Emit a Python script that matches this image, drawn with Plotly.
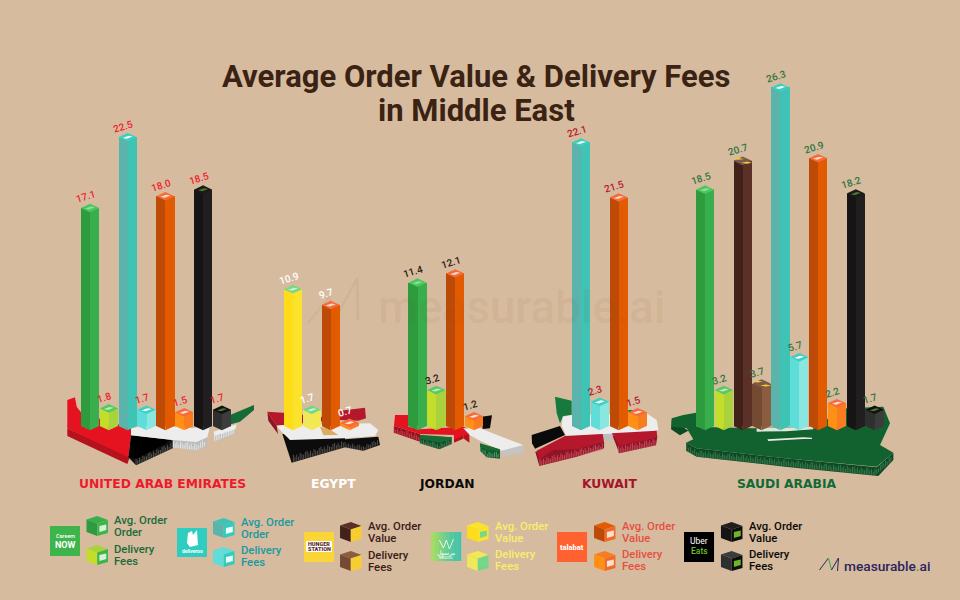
import plotly.graph_objects as go

# ---------- data ----------
uae_brands = ["careem", "careem_fee", "deliveroo", "deliveroo_fee", "talabat", "talabat_fee", "uber", "uber_fee"]
uae_values = [17.1, 1.8, 22.5, 1.7, 18.0, 1.5, 18.5, 1.7]
egypt_brands = ["mrsool", "mrsool_fee", "talabat", "talabat_fee"]
egypt_values = [10.9, 1.7, 9.7, 0.7]
jordan_brands = ["careem", "careem_fee", "talabat", "talabat_fee"]
jordan_values = [11.4, 3.2, 12.1, 1.2]
kuwait_brands = ["deliveroo", "deliveroo_fee", "talabat", "talabat_fee"]
kuwait_values = [22.1, 2.3, 21.5, 1.5]
# the reference draws Kuwait's talabat column far shorter than its 21.5 label says
kuwait_drawn = [22.1, 2.3, 17.9, 1.5]
saudi_brands = ["careem", "careem_fee", "hunger", "hunger_fee", "deliveroo", "deliveroo_fee",
                "talabat", "talabat_fee", "uber", "uber_fee"]
saudi_values = [18.5, 3.2, 20.7, 3.7, 26.3, 5.7, 20.9, 2.2, 18.2, 1.7]
country_names = ["UNITED ARAB EMIRATES", "EGYPT", "JORDAN", "KUWAIT", "SAUDI ARABIA"]
title_lines = ["Average Order Value & Delivery Fees", "in Middle East"]

# ---------- styling ----------
BG = "#D7BB9E"
COLORS = {  # left face, right face, top, mark on top
    "careem": ("#2E9B3E", "#38AE4C", "#4CC65E", "#8FE09A"),
    "careem_fee": ("#C4DC2A", "#A9D23C", "#57C964", "#B5EBBB"),
    "deliveroo": ("#5AB4AC", "#3FC3B5", "#41CDBE", "#E8FFFA"),
    "deliveroo_fee": ("#5FDDD8", "#8AE7E0", "#3FCFC0", "#F2FFFC"),
    "talabat": ("#BE4A08", "#E25B00", "#F56B3A", "#FFD9C8"),
    "talabat_fee": ("#FF9015", "#FA7C20", "#F96A3A", "#FFE0D0"),
    "uber": ("#161415", "#201E1F", "#1A1A1A", "#4C7A2A"),
    "uber_fee": ("#2F2F2F", "#3C3C3C", "#111111", "#4C7A2A"),
    "hunger": ("#42211A", "#5A3027", "#7A5A4C", "#F7CE2F"),
    "hunger_fee": ("#744A33", "#8B5C3F", "#7A5A4C", "#F7CE2F"),
    "mrsool": ("#FEDC1A", "#FBE32C", "#7AD78A", "#C9F0C9"),
    "mrsool_fee": ("#EEE85A", "#F4E850", "#72D78A", "#C9F0C9"),
}
HW = 9.2
DY = 4.3
SCALE = 13.1
ZERO_PX = 432
BASE = 6 / SCALE
COUNTRIES = [
    (uae_brands, uae_values, uae_values, 90, "#F01E2E"),
    (egypt_brands, egypt_values, egypt_values, 293, "#FFFFFF"),
    (jordan_brands, jordan_values, jordan_values, 417.5, "#2A1A10"),
    (kuwait_brands, kuwait_values, kuwait_drawn, 581, "#B5182D"),
    (saudi_brands, saudi_values, saudi_values, 705, "#2F7543"),
]
STEP = 18.85


def v2y(px):
    return (ZERO_PX - px) / SCALE


shapes, annos = [], []


def pp(x, y):
    return x / 960, 1 - y / 600


def poly(pts, color, line=None, lw=0.6):
    d = "M" + " L".join("%.4f,%.4f" % pp(*p) for p in pts) + " Z"
    shapes.append(dict(type="path", path=d, xref="paper", yref="paper", fillcolor=color,
                       line=dict(width=lw if line else 0, color=line or color), layer="below"))


def Z(o, pts):
    return [(o[0] + a / 3, o[1] + b / 3) for a, b in pts]


def streaks(pts, h, color):
    """thin vertical hatching hanging from a polyline (decorative edge of a map); h in zoomed units"""
    h = h / 3
    pattern = [1.0, 0.55, 0.85, 0.4, 0.95, 0.65, 0.5, 0.9]
    d, k = [], 0
    for (x0, y0), (x1, y1) in zip(pts, pts[1:]):
        n = max(1, int(abs(x1 - x0) / 1.7))
        for i in range(n):
            t = i / n
            x, y = x0 + (x1 - x0) * t, y0 + (y1 - y0) * t
            a = pp(x, y + h * (1 - pattern[k % 8]) * 0.8)
            b = pp(x, y + h)
            d.append("M%.4f,%.4f L%.4f,%.4f" % (a + b))
            k += 1
    shapes.append(dict(type="path", path=" ".join(d), xref="paper", yref="paper",
                       line=dict(width=0.7, color=color), layer="below"))


def text(x, y, s, size, color, family="Roboto", weight=None, anchor="center", angle=0):
    f = dict(size=size, color=color, family=family)
    if weight:
        f["weight"] = weight
    annos.append(dict(x=x / 960, y=1 - y / 600, xref="paper", yref="paper", text=s, showarrow=False,
                      font=f, xanchor=anchor, yanchor="middle", textangle=angle, borderpad=0,
                      align=anchor if anchor != "center" else "center"))


# ---------- maps ----------
O1 = (50, 360)
# UAE
poly(Z(O1, [(52, 205), (52, 228), (232, 312), (240, 290)]), "#B5121E")
poly(Z(O1, [(52, 120), (75, 112), (80, 140), (95, 160), (243, 205), (243, 225), (235, 292), (52, 205)]), "#E5131F")
poly(Z(O1, [(235, 292), (258, 316), (368, 265), (370, 240)]), "#111111")
streaks(Z(O1, [(258, 296), (368, 246)]), 19, "#77736E")
poly(Z(O1, [(243, 226), (368, 240), (258, 296), (235, 292)]), "#000000")
poly(Z(O1, [(368, 240), (368, 262), (440, 272), (470, 262), (472, 232)]), "#BDBDBD")
streaks(Z(O1, [(370, 242), (440, 250), (470, 236)]), 21, "#F0F0F0")
poly(Z(O1, [(243, 226), (243, 205), (300, 195), (430, 205), (482, 190), (472, 232), (440, 246), (368, 240)]), "#EDEDED")
poly(Z(O1, [(492, 216), (495, 245), (550, 225), (556, 210)]), "#BDBDBD")
streaks(Z(O1, [(494, 222), (556, 198)]), 22, "#F0F0F0")
poly(Z(O1, [(490, 215), (560, 193), (556, 208), (495, 228)]), "#EDEDED")
poly(Z(O1, [(535, 195), (570, 185), (612, 150), (612, 135), (540, 165), (495, 190), (500, 195)]), "#176B36")
# Egypt
poly(Z(O1, [(652, 155), (655, 182), (684, 222), (680, 197)]), "#8E1426")
poly(Z(O1, [(652, 155), (700, 158), (880, 178), (680, 197)]), "#B5182D")
poly(Z(O1, [(870, 152), (945, 143), (948, 175), (925, 182), (870, 180)]), "#B5182D")
poly(Z(O1, [(697, 222), (725, 308), (885, 262), (885, 232)]), "#0C0C0C")
streaks(Z(O1, [(730, 284), (885, 240)]), 22, "#6F6A66")
poly(Z(O1, [(885, 238), (885, 262), (940, 272), (990, 255), (985, 230)]), "#0C0C0C")
streaks(Z(O1, [(885, 246), (940, 256), (988, 236)]), 17, "#6F6A66")
poly(Z(O1, [(680, 197), (700, 195), (960, 190), (985, 210), (975, 228), (885, 235), (720, 240), (695, 215)]), "#EDEDED")
poly(Z(O1, [(810, 200), (835, 205), (865, 225), (820, 226)]), "#D9AE63")
O2 = (380, 360)
# Jordan
poly(Z(O2, [(42, 198), (120, 222), (120, 245), (42, 218)]), "#8E1220")
streaks(Z(O2, [(42, 200), (120, 224)]), 19, "#E24A56")
poly(Z(O2, [(120, 228), (215, 232), (215, 252), (178, 268), (120, 250)]), "#0D4A24")
streaks(Z(O2, [(120, 234), (178, 250), (215, 236)]), 17, "#5C8E68")
poly(Z(O2, [(120, 224), (215, 232), (212, 240), (180, 248), (120, 236)]), "#186B35")
poly(Z(O2, [(305, 170), (336, 166), (330, 205), (308, 207)]), "#0B0B0B")
poly(Z(O2, [(222, 222), (222, 248), (250, 236), (250, 215)]), "#B5121E")
poly(Z(O2, [(250, 215), (268, 224), (268, 248), (250, 235)]), "#B5121E")
poly(Z(O2, [(45, 165), (85, 165), (85, 200), (120, 208), (250, 200), (300, 222), (250, 225), (222, 240),
            (222, 225), (120, 222), (42, 198)]), "#E5131F")
poly(Z(O2, [(365, 270), (368, 290), (430, 278), (430, 255)]), "#C4C4C4")
poly(Z(O2, [(300, 252), (300, 272), (320, 292), (360, 296), (360, 268)]), "#0E5A2B")
streaks(Z(O2, [(302, 258), (322, 274), (360, 276)]), 17, "#7EA889")
poly(Z(O2, [(250, 205), (300, 205), (430, 255), (365, 272), (300, 242), (270, 226)]), "#EDEDED")
poly(Z(O2, [(300, 250), (360, 268), (360, 274), (320, 270), (300, 260)]), "#186B35")
# Kuwait
poly(Z(O2, [(525, 110), (575, 122), (575, 165), (550, 168), (540, 190), (530, 160)]), "#167A3E")
poly(Z(O2, [(745, 150), (790, 150), (780, 158), (745, 158)]), "#167A3E")
poly(Z(O2, [(660, 215), (700, 212), (698, 240), (665, 242)]), "#BDBDBD")
poly(Z(O2, [(548, 170), (575, 165), (800, 160), (830, 180), (835, 210), (800, 218), (670, 222), (560, 230), (545, 198)]), "#EDEDED")
poly(Z(O2, [(466, 275), (478, 318), (590, 290), (672, 265), (672, 245)]), "#8E1426")
streaks(Z(O2, [(480, 296), (590, 268), (672, 248)]), 21, "#D8606E")
poly(Z(O2, [(470, 272), (555, 228), (668, 222), (672, 245), (590, 268), (520, 270), (478, 298)]), "#B5182D")
poly(Z(O2, [(455, 225), (540, 198), (555, 225), (465, 266), (456, 250)]), "#0A0A0A")
poly(Z(O2, [(698, 228), (718, 280), (828, 256), (832, 230)]), "#8E1426")
streaks(Z(O2, [(716, 258), (830, 234)]), 22, "#D8606E")
poly(Z(O2, [(695, 220), (830, 212), (832, 232), (720, 258)]), "#B5182D")
O3 = (660, 360)
# Saudi Arabia
poly(Z(O3, [(35, 178), (33, 208), (60, 226), (85, 212)]), "#0C4A24")
poly(Z(O3, [(78, 248), (78, 272), (110, 290), (375, 320), (655, 348), (700, 300), (700, 278), (650, 322), (375, 295), (110, 265)]), "#0C4A24")
streaks(Z(O3, [(80, 252), (110, 270), (375, 298), (645, 326), (698, 282)]), 20, "#4F8A5F")
poly(Z(O3, [(35, 175), (70, 165), (108, 158), (110, 200), (280, 205), (460, 200), (560, 145), (670, 140), (690, 190),
            (660, 255), (700, 278), (650, 320), (375, 295), (110, 265), (78, 248), (100, 238), (80, 205), (35, 200)]), "#11622F")
poly(Z(O3, [(322, 238), (430, 232), (456, 233), (456, 237), (430, 237), (325, 243)]), "#E8E8E8")
poly(Z(O3, [(290, 205), (460, 200), (460, 208), (380, 214), (290, 215)]), "#DDE8DD")

# watermark logo
for a, b in [((110, 190), (175, 110)), ((175, 110), (190, 180)), ((190, 180), (258, 55)), ((258, 55), (260, 180))]:
    p, q = Z((270, 260), [a])[0], Z((270, 260), [b])[0]
    poly([p, (q[0], q[1]), (q[0] + 2.5, q[1]), (p[0] + 2.5, p[1])], "#CFB396")


# ---------- legend ----------
def cube(x, y, left, top, right, logo):
    w = 21.5
    poly([(x, y + 3.5), (x + w / 2, y), (x + w, y + 4), (x + w / 2, y + 7.5)], top)
    poly([(x, y + 3.5), (x + w / 2, y + 7.5), (x + w / 2, y + 20), (x, y + 16)], left)
    poly([(x + w / 2, y + 7.5), (x + w, y + 4), (x + w, y + 17), (x + w / 2, y + 20)], right)
    poly([(x + w * .6, y + 10), (x + w * .92, y + 8.5), (x + w * .92, y + 14), (x + w * .6, y + 16)], logo)


def legend_group(tile, tile_color, cube_x, y1, y2, k1, k2, tx, lines, color, logo, right=None):
    poly([(tile[0], tile[1]), (tile[2], tile[1]), (tile[2], tile[3]), (tile[0], tile[3])], tile_color)
    c1, c2 = COLORS[k1], COLORS[k2]
    cube(cube_x, y1, c1[0], c1[1], right or c1[1], logo)
    cube(cube_x, y2, c2[0], c2[1] if k2 != "deliveroo_fee" else c2[0], right or c2[2], logo)
    for (yy, a, b) in lines:
        # outer size sets the line pitch (12px), the inner spans the glyph size
        s = '<span style="font-size:11.3px">%s</span><br><span style="font-size:11.3px">%s</span>' % (a, b)
        text(tx, yy, s, 9.2, color, weight=500, anchor="left")


legend_group((50, 526, 80, 556), "#3DB54A", 86.5, 516, 545, "careem", "careem_fee", 113,
             [(526.5, "Avg. Order", "Order"), (555, "Delivery", "Fees")], "#1A6B3A", "#D5F2D8", right="#3DB54A")
text(65, 536, "Careem", 5.5, "#FFFFFF", weight=500)
text(65, 545, "NOW", 9, "#FFFFFF", weight=700)

legend_group((177, 528, 207, 557), "#2ECDBF", 213, 518, 547, "deliveroo", "deliveroo_fee", 240,
             [(528.5, "Avg. Order", "Order"), (556, "Delivery", "Fees")], "#189AA0", "#E8FFFA", right="#33CBBE")
poly([(188, 533), (192, 531), (193, 535), (197, 530), (198, 545), (190, 547), (187, 543)], "#FFFFFF")
text(192, 550.5, "deliveroo", 5, "#FFFFFF", weight=700)

legend_group((304, 532, 334, 562), "#FBD535", 340, 522, 551, "hunger", "hunger_fee", 367,
             [(532.5, "Avg. Order", "Value"), (561.5, "Delivery", "Fees")], "#3A2018", "#F7CE2F", right="#F7CE2F")
poly([(306, 541), (332, 541), (332, 552), (306, 552)], "#FFFFFF")
text(319, 544, "HUNGER", 5.5, "#5A2A28", weight=900)
text(319, 549, "STATION", 5.5, "#5A2A28", weight=900)

bands = ["#A8DA66", "#96D870", "#84D47C", "#72D088", "#62CC94", "#54C89E", "#4AC6A6", "#44C4AC"]
for i, c in enumerate(bands):
    poly([(431 + i * 3.75, 532), (431 + (i + 1) * 3.75 + .3, 532), (431 + (i + 1) * 3.75 + .3, 561), (431 + i * 3.75, 561)], c)
legend_group((431, 532, 431, 532), "#7AD78A", 467, 522, 551, "mrsool", "mrsool_fee", 494,
             [(532.5, "Avg. Order", "Value"), (560.5, "Delivery", "Fees")], "#F9EE6B", "#7AD78A")
for a, b in [((439, 540), (443, 548)), ((443, 548), (446, 540)), ((446, 540), (449, 549)), ((449, 549), (453, 539))]:
    poly([a, b, (b[0] + .8, b[1]), (a[0] + .8, a[1])], "#FFFFFF")
text(446, 553, "مرسول", 5.5, "#FFFFFF", family="Noto Sans CJK SC")
text(446, 558, "MRSOOL", 3.5, "#FFFFFF")

legend_group((557, 532, 587, 562), "#FF6230", 594, 522, 551, "talabat", "talabat_fee", 621,
             [(532.5, "Avg. Order", "Value"), (560.5, "Delivery", "Fees")], "#E6503E", "#FFE0D0", right="#F06A28")
text(572, 547, "talabat", 7.5, "#FFFFFF", weight=800)

legend_group((684, 532, 714, 562), "#000000", 721, 522, 551, "uber", "uber_fee", 747.5,
             [(532.5, "Avg. Order", "Value"), (560.5, "Delivery", "Fees")], "#0A0A0A", "#6FB52C", right="#0E0E0E")
text(699, 541, "Uber", 8.5, "#FFFFFF")
text(699, 551, "Eats", 8.5, "#6BC12A", weight=500)

# footer logo
for a, b, c in [((819, 570), (828, 558), "#1F2A5C"), ((828, 558), (831, 570), "#3AA75A"), ((831, 570), (838, 558), "#1F2A5C"), ((838, 558), (837, 571), "#1F2A5C")]:
    poly([a, b, (b[0] + 1, b[1]), (a[0] + 1, a[1])], c)
text(842.5, 565.5, 'measurable<span style="color:#3AA75A">.</span>ai', 13.7, "#2B2560", weight=500, anchor="left")

# watermark word
text(521, 307, "measurable.ai", 45.5, "rgba(120,78,40,0.085)", weight=500)

# ---------- titles ----------
text(476, 77, title_lines[0], 31, "#3B2314", weight=700)
text(476, 110, title_lines[1], 31, "#3B2314", weight=700)
for (name, cx, col) in zip(country_names, [162.5, 333, 447, 609.5, 786.5],
                           ["#F0192B", "#FFFFFF", "#0A0A0A", "#A3142A", "#0F6A38"]):
    text(cx, 484, name, 12.3, col, family="DejaVu Sans", weight=700)

# ---------- bars ----------
fig = go.Figure()
faces = {}
for brands, values, drawn, start, label_color in COUNTRIES:
    for i, (b, v, d) in enumerate(zip(brands, values, drawn)):
        cx = start + i * STEP
        faces.setdefault(b, []).append((cx, d))
        annos.append(dict(x=cx - 4.5, y=d, xref="x", yref="y", yshift=11, text=f"{v:.1f}", showarrow=False,
                          textangle=-17, font=dict(size=10, color=label_color, family="Roboto", weight=500),
                          xanchor="center", yanchor="middle", borderpad=0))

ky = DY / SCALE
for b, items in faces.items():
    left, right, top, mark = COLORS[b]
    xs = [c for c, _ in items]
    ys = [v for _, v in items]
    for side, col in ((-1, left), (1, right)):
        fig.add_bar(x=[c + side * HW / 2 for c in xs], y=[v - BASE for v in ys], base=BASE, width=HW,
                    marker=dict(color=col, line=dict(width=0)), name=b, showlegend=False, hoverinfo="skip")
        tx, ty = [], []
        for c in xs:  # pointed foot of the bar
            tx += [c + side * HW, c, c, None]
            ty += [BASE, BASE, BASE - ky, None]
        fig.add_scatter(x=tx, y=ty, fill="toself", fillcolor=col, mode="none", showlegend=False, hoverinfo="skip")
    tx, ty, mx, my = [], [], [], []
    for c, v in items:  # rhombus lid of the bar
        tx += [c - HW, c, c + HW, c, None]
        ty += [v, v + ky, v, v - ky, None]
        s = 0.55
        if b.startswith("hunger"):
            for off in (-0.45, 0.45):
                mx += [c - HW * .6 + off * HW, c + off * HW, c + HW * .6 + off * HW, c + off * HW, None]
                my += [v - off * ky, v + .22 * ky - off * ky, v - off * ky, v - .22 * ky - off * ky, None]
        else:
            mx += [c - HW * s, c + HW * .1, c + HW * s, c - HW * .1, None]
            my += [v - ky * .15, v + ky * .35, v + ky * .15, v - ky * .35, None]
    fig.add_scatter(x=tx, y=ty, fill="toself", fillcolor=top, mode="none", showlegend=False, hoverinfo="skip")
    fig.add_scatter(x=mx, y=my, fill="toself", fillcolor=mark, mode="none", showlegend=False, hoverinfo="skip")

fig.update_layout(
    width=960, height=600, margin=dict(l=0, r=0, t=0, b=0), paper_bgcolor=BG, plot_bgcolor=BG,
    barmode="overlay", bargap=0, showlegend=False, shapes=shapes, annotations=annos,
    xaxis=dict(range=[0, 960], visible=False, fixedrange=True),
    yaxis=dict(range=[v2y(600), v2y(0)], visible=False, fixedrange=True),
)
fig.write_html("out.html", config=dict(displayModeBar=False),
               post_script="document.body.style.margin='0';")
